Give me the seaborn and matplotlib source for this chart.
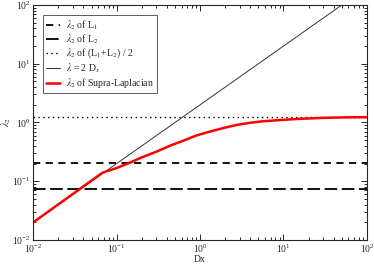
import numpy as np
import pandas as pd
import matplotlib
matplotlib.use("Agg")
import matplotlib.pyplot as plt
from matplotlib.ticker import LogLocator, NullFormatter
import seaborn as sns

# values
lam_L1 = 0.203
lam_L2 = 0.074
lam_mean = 1.23
dx_line = [0.01, 50.0]
lam_line = [0.02, 100.0]
dx_supra = [0.01, 0.0677, 0.1, 0.144, 0.2, 0.3, 0.45, 0.63, 0.9, 1.31, 2.0,
            2.75, 4.0, 5.7, 9.0, 15.0, 30.0, 60.0, 100.0]
lam_supra = [0.02, 0.14, 0.168, 0.207, 0.255, 0.319, 0.41, 0.49, 0.6, 0.70,
             0.82, 0.91, 0.99, 1.05, 1.10, 1.15, 1.20, 1.225, 1.23]
xlim = [0.01, 100.0]

sns.set_style("ticks")
plt.rcParams["font.family"] = ["Liberation Serif", "DejaVu Serif"]
plt.rcParams["mathtext.fontset"] = "stix"

fig = plt.figure(figsize=(3.74, 2.64), dpi=100)
ax = fig.add_axes([0.089, 0.091, 0.892, 0.890])

ax.plot(xlim, [lam_L1] * 2, color="black", lw=1.3, dashes=(4, 3),
        label=r"$\lambda_2$ of L$_1$")
ax.plot(xlim, [lam_L2] * 2, color="black", lw=1.3, dashes=(7, 2.5),
        label=r"$\lambda_2$ of L$_2$")
ax.plot(xlim, [lam_mean] * 2, color="black", lw=1.0, dashes=(1, 2.5),
        label=r"$\lambda_2$ of (L$_1$+L$_2$) / 2")
sns.lineplot(x=dx_line, y=lam_line, ax=ax, color="#333333", lw=0.7,
             label=r"$\lambda$ = 2 D$_x$")
sns.lineplot(x=dx_supra, y=lam_supra, ax=ax, color="red", lw=1.8,
             label=r"$\lambda_2$ of Supra-Laplacian")

ax.set_xscale("log")
ax.set_yscale("log")
ax.set_xlim(xlim)
ax.set_ylim(0.01, 100)
ax.xaxis.set_minor_locator(LogLocator(base=10, subs=np.arange(2, 10)))
ax.yaxis.set_minor_locator(LogLocator(base=10, subs=np.arange(2, 10)))
ax.xaxis.set_minor_formatter(NullFormatter())
ax.yaxis.set_minor_formatter(NullFormatter())
ax.tick_params(which="both", direction="in", top=True, right=True,
               labelsize=7, width=0.7, pad=2)
ax.tick_params(which="major", length=4.5)
ax.tick_params(which="minor", length=2.5)
for s in ax.spines.values():
    s.set_linewidth(0.8)

ax.set_xlabel("Dx", fontsize=7, labelpad=0)
ax.set_ylabel(r"$\lambda_2$", fontsize=7)
ax.yaxis.set_label_coords(-0.062, 0.5)

leg = ax.legend(loc="upper left", bbox_to_anchor=(0.028, 0.957),
                borderaxespad=0, fontsize=7, frameon=True, fancybox=False,
                edgecolor="#333333", handlelength=1.5, labelspacing=0.1,
                borderpad=0.3, handletextpad=0.6)
leg.get_frame().set_linewidth(0.7)

fig.savefig("out.png", dpi=100)
